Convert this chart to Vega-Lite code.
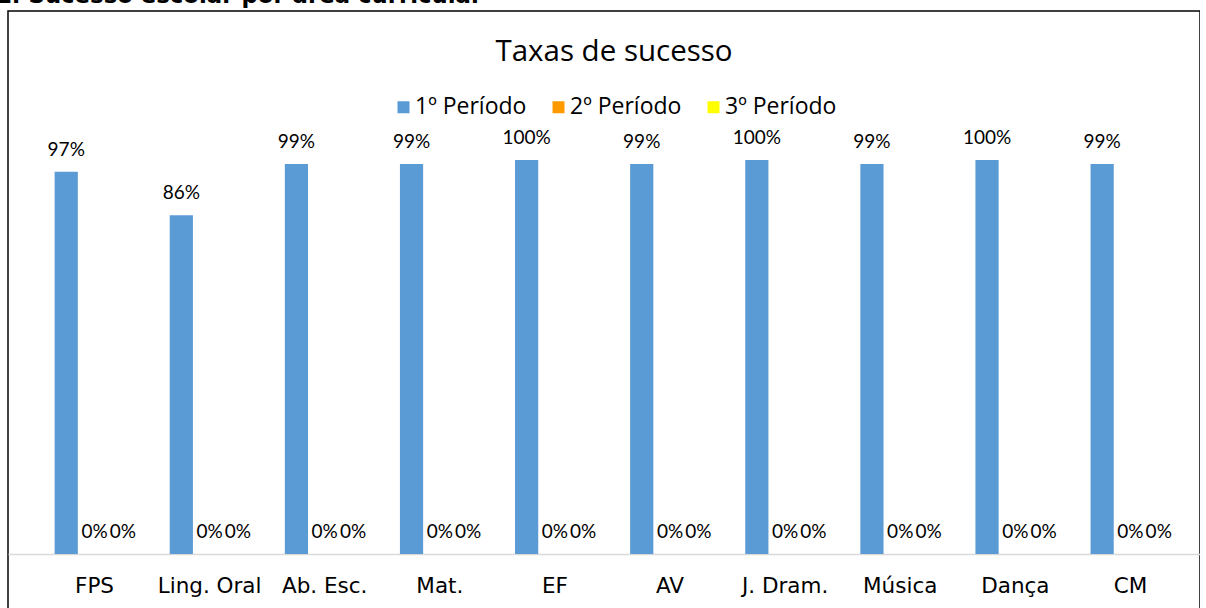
{
  "$schema": "https://vega.github.io/schema/vega-lite/v6.json",
  "autosize": "none",
  "padding": {"left": 8, "top": 11, "right": 0, "bottom": 0},
  "width": 1192,
  "height": 620,
  "background": "white",
  "title": {
    "text": "1. Sucesso escolar por área curricular",
    "anchor": "start",
    "font": "DejaVu Sans",
    "fontSize": 22.8,
    "fontWeight": "bold",
    "color": "#000000",
    "baseline": "alphabetic",
    "offset": 0,
    "dy": 15,
    "dx": -12
  },
  "config": {
    "view": {"stroke": "#000000", "strokeWidth": 1.5},
    "axis": {"grid": false}
  },
  "data": {
    "values": [
      {"area": "FPS", "periodo": "1º Período", "valor": 0.97},
      {"area": "FPS", "periodo": "2º Período", "valor": 0},
      {"area": "FPS", "periodo": "3º Período", "valor": 0},
      {"area": "Ling. Oral", "periodo": "1º Período", "valor": 0.86},
      {"area": "Ling. Oral", "periodo": "2º Período", "valor": 0},
      {"area": "Ling. Oral", "periodo": "3º Período", "valor": 0},
      {"area": "Ab. Esc.", "periodo": "1º Período", "valor": 0.99},
      {"area": "Ab. Esc.", "periodo": "2º Período", "valor": 0},
      {"area": "Ab. Esc.", "periodo": "3º Período", "valor": 0},
      {"area": "Mat.", "periodo": "1º Período", "valor": 0.99},
      {"area": "Mat.", "periodo": "2º Período", "valor": 0},
      {"area": "Mat.", "periodo": "3º Período", "valor": 0},
      {"area": "EF", "periodo": "1º Período", "valor": 1.0},
      {"area": "EF", "periodo": "2º Período", "valor": 0},
      {"area": "EF", "periodo": "3º Período", "valor": 0},
      {"area": "AV", "periodo": "1º Período", "valor": 0.99},
      {"area": "AV", "periodo": "2º Período", "valor": 0},
      {"area": "AV", "periodo": "3º Período", "valor": 0},
      {"area": "J. Dram.", "periodo": "1º Período", "valor": 1.0},
      {"area": "J. Dram.", "periodo": "2º Período", "valor": 0},
      {"area": "J. Dram.", "periodo": "3º Período", "valor": 0},
      {"area": "Música", "periodo": "1º Período", "valor": 0.99},
      {"area": "Música", "periodo": "2º Período", "valor": 0},
      {"area": "Música", "periodo": "3º Período", "valor": 0},
      {"area": "Dança", "periodo": "1º Período", "valor": 1.0},
      {"area": "Dança", "periodo": "2º Período", "valor": 0},
      {"area": "Dança", "periodo": "3º Período", "valor": 0},
      {"area": "CM", "periodo": "1º Período", "valor": 0.99},
      {"area": "CM", "periodo": "2º Período", "valor": 0},
      {"area": "CM", "periodo": "3º Período", "valor": 0}
    ]
  },
  "encoding": {
    "x": {
      "field": "area",
      "type": "nominal",
      "sort": null,
      "scale": {"paddingInner": 0, "paddingOuter": 0.178, "align": 0.707},
      "axis": {
        "title": null,
        "orient": "bottom",
        "offset": -77,
        "labelAngle": 0,
        "ticks": false,
        "domainColor": "#D9D9D9",
        "domainWidth": 1.5,
        "labelFont": "DejaVu Sans",
        "labelFontSize": 21.5,
        "labelColor": "#000000",
        "labelPadding": 21,
        "labelLimit": 300
      }
    },
    "xOffset": {
      "field": "periodo",
      "type": "nominal",
      "sort": null,
      "scale": {"paddingInner": 0.18, "paddingOuter": 0.624}
    },
    "y": {
      "field": "valor",
      "type": "quantitative",
      "scale": {"domain": [-0.1954, 1.3782], "nice": false, "zero": false},
      "axis": null
    }
  },
  "layer": [
    {
      "mark": {"type": "bar"},
      "encoding": {
        "color": {
          "field": "periodo",
          "type": "nominal",
          "sort": null,
          "scale": {"domain": ["1º Período", "2º Período", "3º Período"], "range": ["#5B9BD5", "#FF9900", "#FFFF00"]},
          "legend": {
            "title": "Taxas de sucesso",
            "orient": "none",
            "direction": "horizontal",
            "legendX": 384,
            "legendY": 27,
            "titleAnchor": "middle",
            "titleOrient": "top",
            "titleFont": "Open Sans",
            "titleFontSize": 29.5,
            "titleFontWeight": "normal",
            "titleColor": "#000000",
            "titleLimit": 1000,
            "titlePadding": 28,
            "symbolType": "square",
            "symbolSize": 144,
            "symbolStrokeWidth": 0,
            "labelFont": "Open Sans",
            "labelFontSize": 23,
            "labelLimit": 400,
            "labelColor": "#000000",
            "labelOffset": 0,
            "columnPadding": 20
          }
        }
      }
    },
    {
      "mark": {"type": "text", "font": "Lato", "fontSize": 19, "baseline": "alphabetic", "dy": -16, "color": "#000000"},
      "encoding": {
        "text": {"field": "valor", "type": "quantitative", "format": ".0%"}
      }
    }
  ]
}
